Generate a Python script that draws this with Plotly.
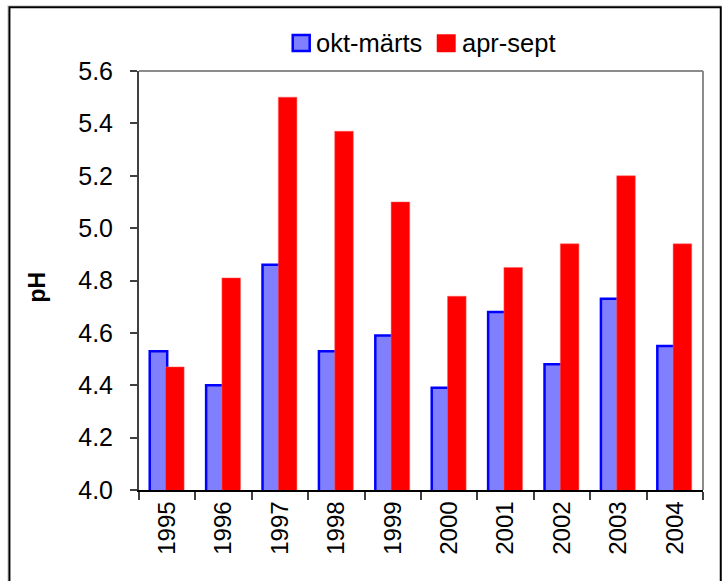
import plotly.graph_objects as go

years = ["1995", "1996", "1997", "1998", "1999", "2000", "2001", "2002", "2003", "2004"]
okt_marts = [4.53, 4.40, 4.86, 4.53, 4.59, 4.39, 4.68, 4.48, 4.73, 4.55]
apr_sept = [4.47, 4.81, 5.50, 5.37, 5.10, 4.74, 4.85, 4.94, 5.20, 4.94]
y_ticks = [4.0, 4.2, 4.4, 4.6, 4.8, 5.0, 5.2, 5.4, 5.6]

FONT = "Arial, Liberation Sans, sans-serif"
W, H = 724, 581
# plot area in window pixels
X0, X1, Y0, Y1 = 138.5, 703.5, 71, 490.3
L, R = X0, W - X1
T, B = Y0, H - Y1
PW, PH = X1 - X0, Y1 - Y0


def px(x):
    return (x - X0) / PW


def py(y):
    return (Y1 - y) / PH


fig = go.Figure()
fig.add_trace(go.Bar(
    x=years, y=okt_marts, name="okt-märts",
    marker=dict(color="#8080FF", line=dict(color="#0000FF", width=2.5)),
    width=0.31, offset=-0.31, showlegend=False,
))
fig.add_trace(go.Bar(
    x=years, y=apr_sept, name="apr-sept",
    marker=dict(color="#FF0000", line=dict(color="#FF6060", width=0.5)),
    width=0.33, offset=-0.03, showlegend=False,
))

shapes = [
    dict(type="line", xref="paper", yref="paper", x0=0, x1=1, y0=1, y1=1,
         line=dict(color="#8c8c8c", width=2)),
    dict(type="line", xref="paper", yref="paper", x0=1, x1=1, y0=0, y1=1,
         line=dict(color="#8c8c8c", width=2)),
    dict(type="line", xref="paper", yref="paper", x0=px(6.5), x1=px(722), y0=py(5.8), y1=py(5.8),
         line=dict(color="#c8c8c8", width=1), layer="below"),
    dict(type="line", xref="paper", yref="paper", x0=px(7.2), x1=px(7.2), y0=py(600), y1=py(5.8),
         line=dict(color="#c8c8c8", width=1), layer="below"),
    dict(type="rect", xref="paper", yref="paper",
         x0=px(8.7), x1=px(721.3), y0=py(600), y1=py(7.2),
         line=dict(color="black", width=2), layer="below"),
    dict(type="rect", xref="paper", yref="paper",
         x0=px(292.5), x1=px(309.5), y0=py(51), y1=py(35),
         fillcolor="#8080FF", line=dict(color="#0000FF", width=2.5)),
    dict(type="rect", xref="paper", yref="paper",
         x0=px(437), x1=px(455.5), y0=py(52), y1=py(34.5),
         fillcolor="#FF0000", line=dict(color="#FF0000", width=0.5)),
]

annotations = [
    dict(text="okt-märts", xref="paper", yref="paper", x=px(314), y=py(43),
         xanchor="left", yanchor="middle", showarrow=False,
         font=dict(family=FONT, size=25.5, color="black")),
    dict(text="apr-sept", xref="paper", yref="paper", x=px(460), y=py(43),
         xanchor="left", yanchor="middle", showarrow=False,
         font=dict(family=FONT, size=25.5, color="black")),
    dict(text="<b>pH</b>", xref="paper", yref="paper", x=px(36), y=py(287),
         xanchor="center", yanchor="middle", textangle=-90, showarrow=False,
         font=dict(family=FONT, size=23, color="black")),
]

fig.update_layout(
    width=W, height=H,
    margin=dict(l=L, r=R, t=T, b=B, pad=0),
    paper_bgcolor="white", plot_bgcolor="white",
    barmode="overlay",
    showlegend=False,
    shapes=shapes,
    annotations=annotations,
    font=dict(family=FONT, color="black"),
)
fig.update_xaxes(
    type="category", categoryorder="array", categoryarray=years,
    showgrid=False, showline=True, linecolor="black", linewidth=1.5,
    ticks="outside", tickson="boundaries", ticklen=8, tickcolor="#404040", tickwidth=1.5,
    tickangle=-90, tickfont=dict(family=FONT, size=24, color="black"),
    zeroline=False,
)
fig.update_yaxes(
    range=[4.0, 5.6], tickvals=y_ticks, ticktext=[f"{v:.1f}" for v in y_ticks],
    showgrid=False, showline=True, linecolor="#404040", linewidth=2,
    ticks="outside", ticklen=7, tickcolor="#404040", tickwidth=1.5,
    tickfont=dict(family=FONT, size=25, color="black"),
    ticklabelstandoff=12, zeroline=False,
)

fig.write_html(
    "out.html",
    config={"displayModeBar": False},
    post_script="document.body.style.margin='0';document.body.style.padding='0';",
)
